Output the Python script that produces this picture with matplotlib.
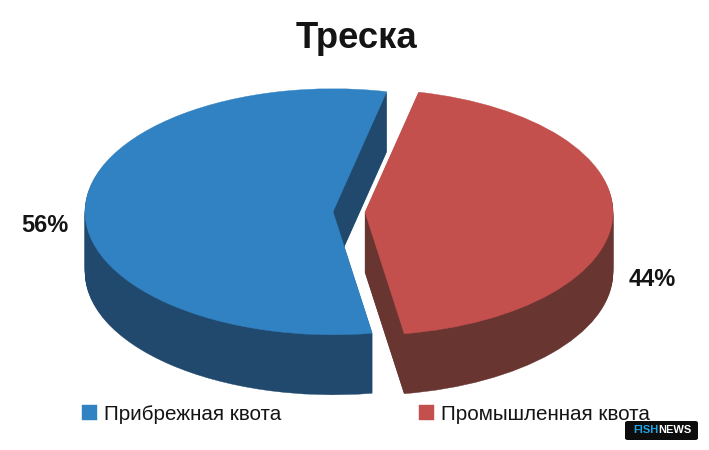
import matplotlib
matplotlib.use("Agg")
import matplotlib.pyplot as plt
from matplotlib.patches import FancyBboxPatch

title = "Треска"
categories = ["Прибрежная квота", "Промышленная квота"]
shares = [56, 44]
share_labels = ["56%", "44%"]
top_colors = ["#3182c2", "#c4504e"]
side_colors = ["#20496d", "#683531"]

W, H = 709, 450
plt.rcParams['font.family'] = ['Liberation Sans', 'DejaVu Sans']
fig = plt.figure(figsize=(W / 100, H / 100), dpi=100, facecolor='white')

# axes: 1 data unit = 248 px in x, 123 px in y, pie centre at pixel (349, 212)
sx, sy = 248.0, 123.0
cx, cy = 349.0, 212.0
ax = fig.add_axes([0, 0, 1, 1])

start = 77.5
explode = [0.0645, 0.0645]
depth_px = 60
wedges = None
for k in range(depth_px, -1, -1):
    colors = top_colors if k == 0 else side_colors
    w, _ = ax.pie(shares, colors=colors, startangle=start, explode=explode,
                  center=(0, -k / sy), radius=1,
                  wedgeprops=dict(linewidth=0, antialiased=True))
    for p in w:
        p.set_edgecolor(p.get_facecolor())
        p.set_linewidth(0.3)
    wedges = w

ax.set_aspect('auto')
ax.set_xlim(-cx / sx, (W - cx) / sx)
ax.set_ylim(-(H - cy) / sy, cy / sy)
ax.axis('off')


def px(x, y):
    return x / W, 1 - y / H


fig.text(*px(356, 38), title, ha='center', va='center', fontsize=26.3,
         fontweight='bold', color='#141414')
fig.text(*px(45, 225), share_labels[0], ha='center', va='center', fontsize=17,
         fontweight='bold', color='#141414')
fig.text(*px(652, 280), share_labels[1], ha='center', va='center', fontsize=17,
         fontweight='bold', color='#141414')

fig.legend(wedges, categories, loc='center left', bbox_to_anchor=px(82, 414),
           ncols=2, frameon=False, fontsize=14.9, handlelength=0.72, handleheight=0.72,
           handletextpad=0.35, columnspacing=6.65, labelcolor='#141414',
           borderpad=0, borderaxespad=0)

# FISHNEWS badge
logo = FancyBboxPatch(px(625, 440), 73 / W, 19 / H, boxstyle="round,pad=0,rounding_size=0.004",
                      transform=fig.transFigure, facecolor='#0d0d0d', edgecolor='none')
fig.add_artist(logo)
fig.text(*px(658, 430), "FISH", ha='right', va='center', fontsize=8,
         fontweight='bold', color='#1ea5e6')
fig.text(*px(658, 430), "NEWS", ha='left', va='center', fontsize=8,
         fontweight='bold', color='white')

fig.savefig("out.png", dpi=100, facecolor='white')
